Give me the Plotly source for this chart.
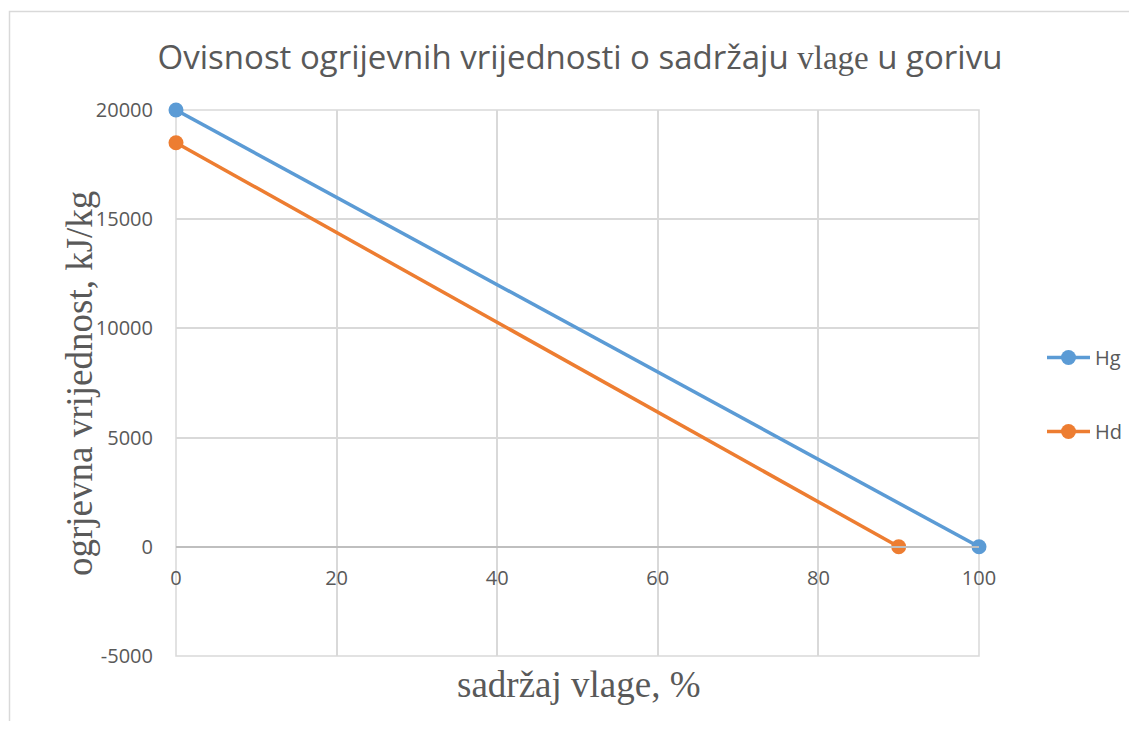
import plotly.graph_objects as go

# data
moisture_hg = [0, 100]
hg_values = [20000, 0]
moisture_hd = [0, 90]
hd_values = [18500, 0]
x_ticks = [0, 20, 40, 60, 80, 100]
y_ticks = [-5000, 0, 5000, 10000, 15000, 20000]

OFF = 8  # page body margin
W, H = 1137 - 2 * OFF, 729 - 2 * OFF
# plot area in screen pixels
SL, SR, ST, SB = 176, 979, 110, 656
L, T = SL - OFF, ST - OFF
R = W - (SR - OFF)
B = H - (SB - OFF)
pw, ph = SR - SL, SB - ST

def px(xs):
    return (xs - SL) / pw

def py(ys):
    return (SB - ys) / ph

sans = "Open Sans"
serif = "Liberation Serif"
txt = "#595959"
grid = "#d9d9d9"

fig = go.Figure()
fig.add_trace(go.Scatter(x=moisture_hg, y=hg_values, name="Hg", mode="lines+markers",
                         line=dict(color="#5B9BD5", width=3.5), marker=dict(size=15, color="#5B9BD5"),
                         cliponaxis=False, legendgroup="a"))
fig.add_trace(go.Scatter(x=moisture_hd, y=hd_values, name="Hd", mode="lines+markers",
                         line=dict(color="#ED7D31", width=3.5), marker=dict(size=15, color="#ED7D31"),
                         cliponaxis=False, legendgroup="b"))

fig.update_layout(
    width=W, height=H,
    margin=dict(l=L, r=R, t=T, b=B, autoexpand=False),
    paper_bgcolor="white", plot_bgcolor="white",
    font=dict(family=sans, color=txt, size=20),
    title=dict(
        text="Ovisnost ogrijevnih vrijednosti o sadržaju <span style='font-family:Liberation Serif'>vlage</span> u gorivu",
        x=px(580), xanchor="center", xref="paper", y=1 - (57 - OFF) / H, yanchor="middle",
        font=dict(family=sans, size=33, color=txt)),
    xaxis=dict(range=[0, 100], tickvals=x_ticks, ticktext=[str(v) for v in x_ticks],
               showgrid=True, gridcolor=grid, gridwidth=1.5, zeroline=False,
               anchor="free", position=0.2, showline=True, linecolor="#bfbfbf", linewidth=1.5,
               ticks="", ticklabelstandoff=13, tickfont=dict(size=20, color=txt)),
    yaxis=dict(range=[-5000, 20000], tickvals=y_ticks, ticktext=[str(v) for v in y_ticks],
               showgrid=True, gridcolor=grid, gridwidth=1.5, zeroline=False,
               ticks="", ticklabelstandoff=22, tickfont=dict(size=20, color=txt)),
    legend=dict(x=px(1042), y=py(338), xanchor="left", yanchor="top",
                font=dict(size=20, color=txt), tracegroupgap=45, itemwidth=43,
                bgcolor="rgba(0,0,0,0)"),
    annotations=[
        dict(text="sadržaj vlage, %", x=px(578), y=py(684), xref="paper", yref="paper",
             showarrow=False, font=dict(family=serif, size=37, color=txt),
             xanchor="center", yanchor="middle"),
        dict(text="ogrjevna vrijednost, kJ/kg", x=px(79), y=py(384), xref="paper", yref="paper",
             showarrow=False, textangle=-90, font=dict(family=serif, size=37, color=txt),
             xanchor="center", yanchor="middle"),
    ],
    shapes=[
        dict(type="rect", xref="paper", yref="paper", x0=0, x1=1, y0=0, y1=1,
             line=dict(color=grid, width=1.5), layer="below"),
        dict(type="rect", xref="paper", yref="paper", x0=px(9.5), x1=px(1160), y0=py(760), y1=py(11.5),
             line=dict(color=grid, width=1.5), layer="below"),
    ],
)

fig.write_html("out.html")
